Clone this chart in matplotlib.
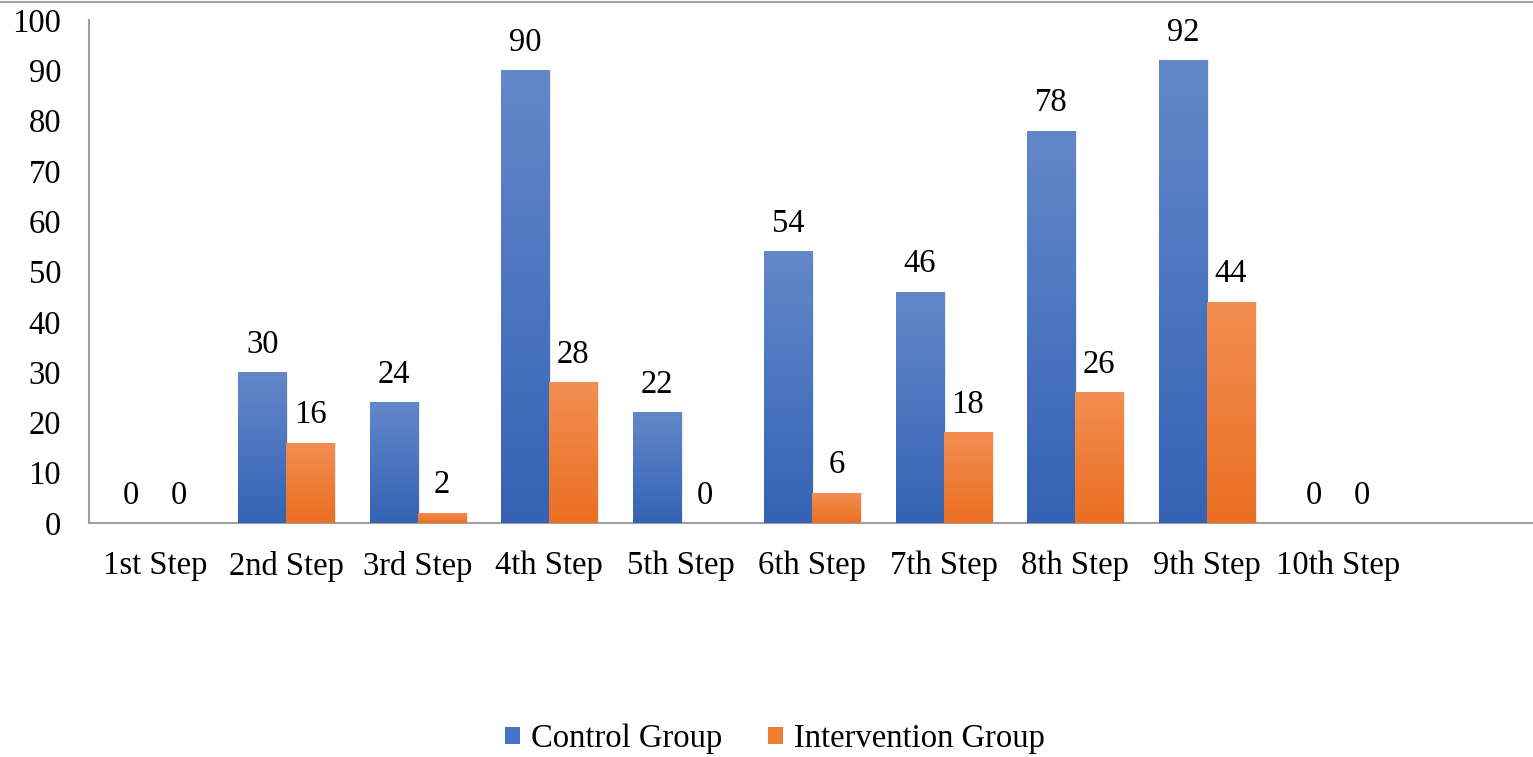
import numpy as np
import matplotlib
matplotlib.use("Agg")
import matplotlib.pyplot as plt
from matplotlib.colors import LinearSegmentedColormap
from matplotlib.patches import Patch
from matplotlib.lines import Line2D

categories = ["1st Step", "2nd Step", "3rd Step", "4th Step", "5th Step",
              "6th Step", "7th Step", "8th Step", "9th Step", "10th Step"]
control = [0, 30, 24, 90, 22, 54, 46, 78, 92, 0]
intervention = [0, 16, 2, 28, 0, 6, 18, 26, 44, 0]
series_names = ["Control Group", "Intervention Group"]
yticks = [0, 10, 20, 30, 40, 50, 60, 70, 80, 90, 100]

plt.rcParams['font.family'] = ['Liberation Serif', 'DejaVu Serif']
FS = 23.5

fig = plt.figure(figsize=(15.33, 7.57), dpi=100)
ax = fig.add_axes([89/1533, 1 - 523/757, 1 - 89/1533, (523 - 20)/757])

x = np.arange(len(categories))
w = 0.365
blue_cm = LinearSegmentedColormap.from_list("b", ["#3562B4", "#6388CA"])
orange_cm = LinearSegmentedColormap.from_list("o", ["#EA6F22", "#F38E52"])
grad = np.linspace(0, 1, 256).reshape(-1, 1)

def draw(vals, offset, cmap, color):
    bars = ax.bar(x + offset, vals, w, color=color, linewidth=0, zorder=2)
    for b, v in zip(bars, vals):
        if v > 0:
            bx, by = b.get_x(), b.get_y()
            bw, bh = b.get_width(), b.get_height()
            ax.bar(bx + bw/2 + 0.015, v, bw, bottom=0, color="#000000", alpha=0.08,
                   linewidth=0, zorder=1)
            im = ax.imshow(grad, extent=[bx, bx + bw, by, by + bh], origin="lower",
                           cmap=cmap, aspect="auto", zorder=3)
            im.set_clip_path(b)
        ax.annotate(str(v), (b.get_x() + b.get_width()/2, v), xytext=(0, 9),
                    textcoords="offset points", ha="center", va="bottom",
                    fontsize=FS, color="#000000", zorder=4)
    return bars

draw(control, -w/2, blue_cm, "#4472C4")
draw(intervention, w/2, orange_cm, "#ED7D31")

ax.set_xlim(-0.5, 10.48)
ax.set_ylim(0, 100)
ax.set_yticks(yticks)
ax.set_yticklabels([str(t) for t in yticks], fontsize=FS)
ax.set_xticks(x)
ax.set_xticklabels(categories, fontsize=FS)
ax.tick_params(axis="y", length=0, pad=20)
ax.tick_params(axis="x", length=0, pad=20)
for s in ["top", "right"]:
    ax.spines[s].set_visible(False)
for s in ["left", "bottom"]:
    ax.spines[s].set_color("#A0A0A0")
    ax.spines[s].set_linewidth(1.5)

handles = [Patch(facecolor="#4472C4", edgecolor="none"),
           Patch(facecolor="#ED7D31", edgecolor="none")]
fig.legend(handles, series_names, loc="center", bbox_to_anchor=(775/1533, 1 - 739/757),
           ncol=2, frameon=False, fontsize=FS, handlelength=0.45, handleheight=0.45,
           handletextpad=0.35, columnspacing=1.4)

fig.add_artist(Line2D([0, 1], [1 - 1.5/757, 1 - 1.5/757], transform=fig.transFigure,
                      color="#A0A0A0", linewidth=1.5))

fig.savefig("out.png", dpi=100)
